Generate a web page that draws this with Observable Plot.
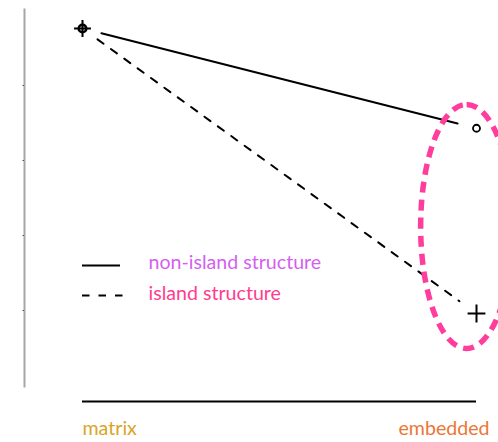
<!DOCTYPE html>
<html>
<head>
<meta charset="utf-8">
<script src="https://cdn.jsdelivr.net/npm/d3@7"></script>
<script src="https://cdn.jsdelivr.net/npm/@observablehq/plot@0.6"></script>
<style>
  html, body { margin: 0; padding: 0; background: #fff; }
  #chart svg { display: block; }
</style>
</head>
<body>
<div id="chart"></div>
<script>
// ---- data ----
const categories = ["matrix", "embedded"];
const xPositions = [0, 1];
const nonIsland = [4.76, 3.43];
const island = [4.76, 0.96];
const seriesNames = ["non-island structure", "island structure"];
const yTicks = [0, 1, 2, 3, 4, 5];
// highlight ellipse around the "embedded" end points (center x, center y)
const highlight = [{x: 0.975, y: 2.12}];

// ---- derived tables ----
const segments = [
  {series: seriesNames[0], x1: xPositions[0], y1: nonIsland[0], x2: xPositions[1], y2: nonIsland[1], dash: null},
  {series: seriesNames[1], x1: xPositions[0], y1: island[0], x2: xPositions[1], y2: island[1], dash: "7.5,9"}
];
const startPoint = [{x: xPositions[0], y: nonIsland[0]}];
const circlePoint = [{x: xPositions[1], y: nonIsland[1]}];
const plusPoint = [{x: xPositions[1], y: island[1]}];

const legendRows = [
  {name: seriesNames[0], y: 1.6, ty: 1.64, dash: null, x2: 0.0964, color: "#d45ff0"},
  {name: seriesNames[1], y: 1.2, ty: 1.225, dash: "7.5,9", x2: 0.104, color: "#ff3d8f"}
];
const catLabels = [
  {label: categories[0], x: xPositions[0], color: "#d9a526"},
  {label: categories[1], x: 1.033, color: "#ec7636"}
];
const baseY = -0.213;
const labelY = -0.58;
const FS = 19.6;

const ellipseSymbol = {
  draw(ctx, size) {
    const r = Math.sqrt(size / Math.PI);
    const ry = r, rx = r * 0.377, k = 0.5523;
    ctx.moveTo(0, -ry);
    ctx.bezierCurveTo(k * rx, -ry, rx, -k * ry, rx, 0);
    ctx.bezierCurveTo(rx, k * ry, k * rx, ry, 0, ry);
    ctx.bezierCurveTo(-k * rx, ry, -rx, k * ry, -rx, 0);
    ctx.bezierCurveTo(-rx, -k * ry, -k * rx, -ry, 0, -ry);
    ctx.closePath();
  }
};

const chart = Plot.plot({
  width: 498,
  height: 442,
  marginLeft: 24,
  marginRight: 0,
  marginTop: 9,
  marginBottom: 56,
  style: {fontFamily: "Lato, 'Open Sans', sans-serif", fontSize: FS + "px", background: "#fff"},
  x: {domain: [0, 1], range: [82, 476], axis: null},
  y: {domain: [0, 5], range: [385, 10], axis: null},
  marks: [
    Plot.frame({anchor: "left", stroke: "#a6a6a6", strokeWidth: 2}),
    Plot.axisY({ticks: yTicks.slice(1, -1), tickSize: 1.5, tickFormat: () => "", stroke: "#555", anchor: "left"}),
    Plot.ruleY([baseY], {x1: 0, x2: 1, stroke: "#000", strokeWidth: 2}),
    Plot.text(catLabels.slice(0, 1), {x: "x", y: labelY, text: "label", textAnchor: "start", fill: "color", fontSize: FS}),
    Plot.text(catLabels.slice(1), {x: "x", y: labelY, text: "label", textAnchor: "end", fill: "color", fontSize: FS}),
    Plot.arrow(segments.filter(d => !d.dash), {x1: "x1", y1: "y1", x2: "x2", y2: "y2", headLength: 0, insetStart: 19.5, insetEnd: 19.5, stroke: "#000", strokeWidth: 2}),
    Plot.arrow(segments.filter(d => d.dash), {x1: "x1", y1: "y1", x2: "x2", y2: "y2", headLength: 0, insetStart: 18.5, insetEnd: 21, stroke: "#000", strokeWidth: 2, strokeDasharray: "7.5,9"}),
    Plot.dot(startPoint, {x: "x", y: "y", r: 3.8, stroke: "#000", strokeWidth: 2.6, fill: "none"}),
    Plot.dot(startPoint, {x: "x", y: "y", symbol: "plus", r: 5.5, stroke: "#000", strokeWidth: 2}),
    Plot.dot(circlePoint, {x: "x", y: "y", r: 3.5, stroke: "#000", strokeWidth: 1.8, fill: "none"}),
    Plot.dot(plusPoint, {x: "x", y: "y", symbol: "plus", r: 5.8, stroke: "#000", strokeWidth: 2}),
    Plot.ruleY(legendRows.filter(d => !d.dash), {y: "y", x1: 0, x2: "x2", stroke: "#000", strokeWidth: 2}),
    Plot.ruleY(legendRows.filter(d => d.dash), {y: "y", x1: 0, x2: "x2", stroke: "#000", strokeWidth: 2, strokeDasharray: "7.5,9"}),
    Plot.text(legendRows, {x: 0.1675, y: "ty", text: "name", textAnchor: "start", fill: "color", fontSize: FS}),
    Plot.dot(highlight, {x: "x", y: "y", r: 122, symbol: ellipseSymbol, fill: "none", stroke: "#ff3d9c", strokeWidth: 5.5, strokeDasharray: "11,7"})
  ]
});
document.getElementById("chart").appendChild(chart);
</script>
</body>
</html>
